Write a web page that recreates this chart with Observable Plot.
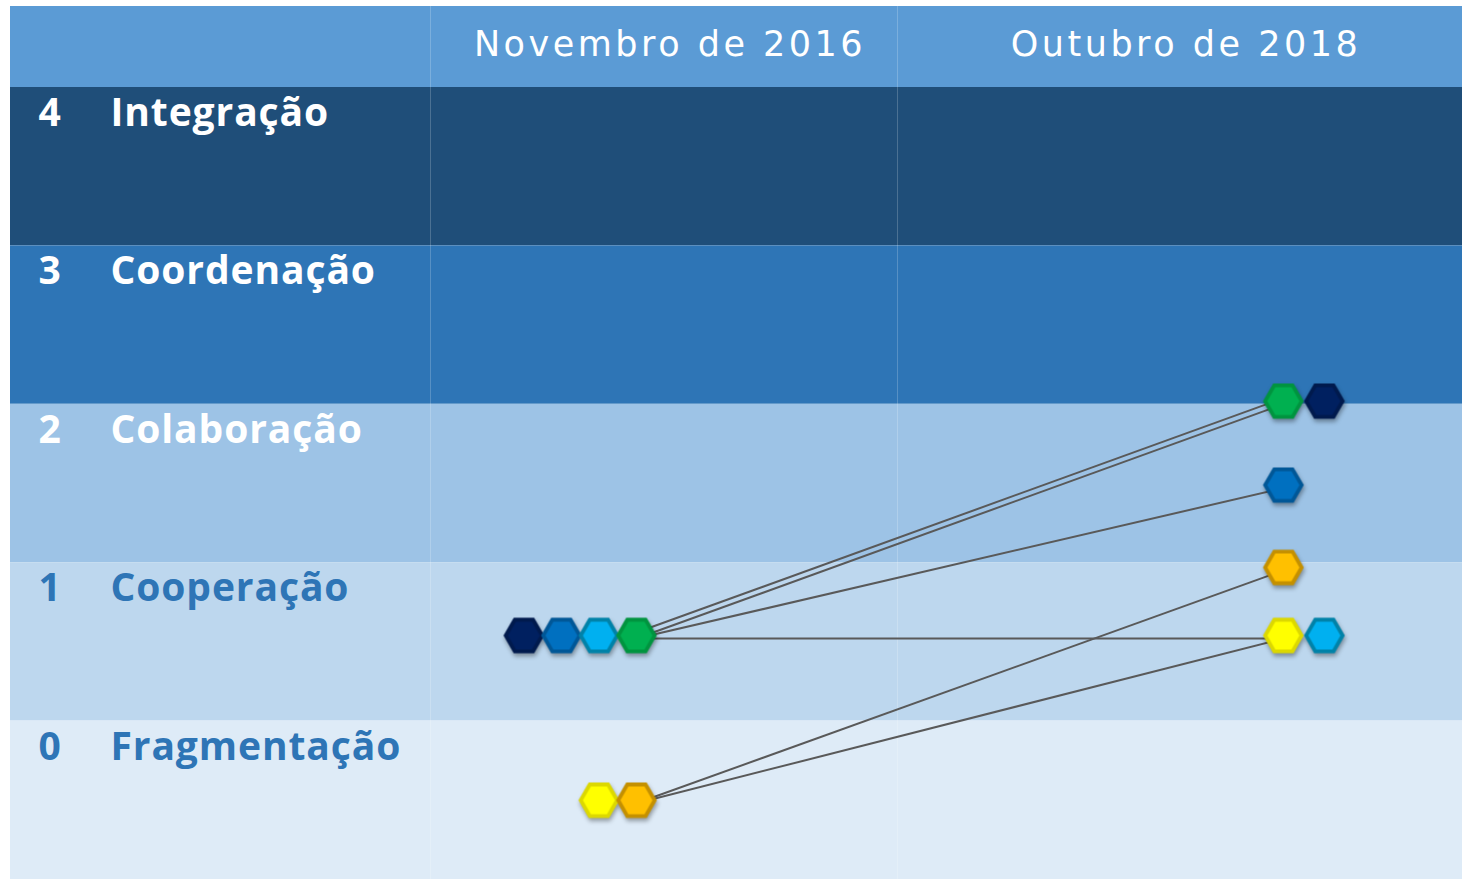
<!DOCTYPE html>
<html><head><meta charset="utf-8">
<script src="https://cdn.jsdelivr.net/npm/d3@7"></script>
<script src="https://cdn.jsdelivr.net/npm/@observablehq/plot@0.6"></script>
<style>html,body{margin:0;padding:0;background:#fff;}</style>
</head><body><div id="chart"></div>
<script>
// ---- data ----
const levels = [4, 3, 2, 1, 0];
const levelNames = ["Integração", "Coordenação", "Colaboração", "Cooperação", "Fragmentação"];
const bandColors = ["#1F4E79", "#2E75B6", "#9DC3E6", "#BDD7EE", "#DEEBF7"];
const labelColors = ["#FFFFFF", "#FFFFFF", "#FFFFFF", "#2E75B6", "#2E75B6"];
const periods = ["Novembro de 2016", "Outubro de 2018"];
const entities = ["Azul-marinho", "Azul", "Azul-claro", "Verde", "Amarelo", "Laranja"];
const entityFill = ["#002060", "#0070C0", "#00B0F0", "#00B050", "#FFFF00", "#FFC000"];
const entityStroke = ["#001A4D", "#005797", "#0082A8", "#00943F", "#DCD800", "#C49000"];
const level2016 = [1.04, 1.04, 1.04, 1.04, 0, 0];
const level2018 = [2.52, 1.99, 1.04, 2.52, 1.04, 1.47];
// left-to-right order of the hexagons inside each cell
const order2016 = ["Azul-marinho", "Azul", "Azul-claro", "Verde", "Amarelo", "Laranja"];
const order2018 = ["Verde", "Azul-marinho", "Azul", "Laranja", "Amarelo", "Azul-claro"];

// ---- layout (column 0 = labels, 1 = 2016, 2 = 2018) ----
const COL_PX = [10, 430, 897, 1462];
const BAND_TOP = 87, BAND_BOTTOM = 879, HEADER_TOP = 6;
const bandPx = (BAND_BOTTOM - BAND_TOP) / levels.length;
const headerTopValue = 4.5 + (BAND_TOP - HEADER_TOP) / bandPx;
const anchorFrac = {1: 0.441, 2: 0.683};
const spacingPx = {1: 37.5, 2: 41};
const colX = (c, frac) => COL_PX[c] + frac * (COL_PX[c + 1] - COL_PX[c]);

const hexes = [];
function place(order, lv, col, alignRight) {
  const groups = d3.group(order, n => lv[entities.indexOf(n)]);
  for (const [level, names] of groups) {
    names.forEach((name, i) => {
      const k = entities.indexOf(name);
      const slot = alignRight ? i - (names.length - 1) : i;
      hexes.push({name, level, col, x: colX(col, anchorFrac[col]) + slot * spacingPx[col],
        fill: entityFill[k], stroke: entityStroke[k]});
    });
  }
}
place(order2016, level2016, 1, true);
place(order2018, level2018, 2, false);

const links = entities.map((name, k) => ({name, x1: colX(1, anchorFrac[1]), y1: level2016[k], x2: colX(2, anchorFrac[2]), y2: level2018[k]}));
const seen = new Map();
links.forEach(l => { const key = l.y1 + ">" + l.y2; const n = seen.get(key) || 0; l.lane = n; seen.set(key, n + 1); });

const bands = levels.map((l, i) => ({level: l, name: levelNames[i], fill: bandColors[i], color: labelColors[i]}));

const hexSymbol = {
  draw(ctx, size) {
    const R = Math.sqrt(size / Math.PI) * 2 / Math.sqrt(3);
    const h = R * Math.sqrt(3) / 2;
    ctx.moveTo(R, 0); ctx.lineTo(R / 2, h); ctx.lineTo(-R / 2, h);
    ctx.lineTo(-R, 0); ctx.lineTo(-R / 2, -h); ctx.lineTo(R / 2, -h); ctx.closePath();
  }
};

const linkMark = lane => Plot.link(links.filter(l => l.lane === lane), {
  x1: "x1", y1: "y1", x2: "x2", y2: "y2", stroke: "#595959", strokeWidth: 2, dy: lane === 0 ? 3 : -3
});

const chart = Plot.plot({
  width: 1462, height: 880, margin: 0,
  x: {domain: [COL_PX[0], COL_PX[3]], range: [COL_PX[0], COL_PX[3]], axis: null},
  y: {domain: [-0.5, 4.5], range: [BAND_BOTTOM, BAND_TOP], axis: null},
  color: {type: "identity"},
  marks: [
    Plot.rect(bands, {x1: COL_PX[0], x2: COL_PX[3], y1: d => d.level - 0.5, y2: d => d.level + 0.5, fill: "fill"}),
    Plot.rect([0], {x1: COL_PX[0], x2: COL_PX[3], y1: 4.5, y2: headerTopValue, fill: "#5B9BD5"}),
    Plot.ruleX([COL_PX[1], COL_PX[2]], {y1: -0.5, y2: headerTopValue, stroke: "#FFFFFF", strokeOpacity: 0.2, strokeWidth: 1}),
    Plot.text(periods, {x: (d, i) => colX(i + 1, 0.5) + 6, y: (4.5 + headerTopValue) / 2, dy: -2, text: d => d, fill: "#FFFFFF",
      fontSize: 35, fontFamily: "DejaVu Sans", lineAnchor: "middle"}),
    Plot.text(bands, {x: COL_PX[0], y: d => d.level + 0.5, text: d => String(d.level), fill: "color", dx: 28, dy: 26,
      textAnchor: "start", lineAnchor: "middle", fontSize: 39, fontWeight: "bold", fontFamily: "Open Sans"}),
    Plot.text(bands, {x: COL_PX[0], y: d => d.level + 0.5, text: "name", fill: "color", dx: 100, dy: 26,
      textAnchor: "start", lineAnchor: "middle", fontSize: 39, fontWeight: "bold", fontFamily: "Open Sans"}),
    linkMark(0), linkMark(1),
    Plot.dot(hexes, {x: "x", y: "level", fill: "fill", stroke: "stroke", strokeWidth: 3.8, r: 15.8,
      symbol: hexSymbol})
  ]
});
document.getElementById("chart").appendChild(chart);
const svg = d3.select(chart);
svg.selectAll('g[aria-label="dot"]').style("filter", "drop-shadow(1px 3px 2px rgba(0,0,0,0.35))");
svg.selectAll("text").filter(function () { return periods.includes(this.textContent); }).style("letter-spacing", "3.5px");
svg.selectAll("text").filter(function () { return levelNames.includes(this.textContent); }).style("letter-spacing", "0.9px");
</script>
</body></html>
